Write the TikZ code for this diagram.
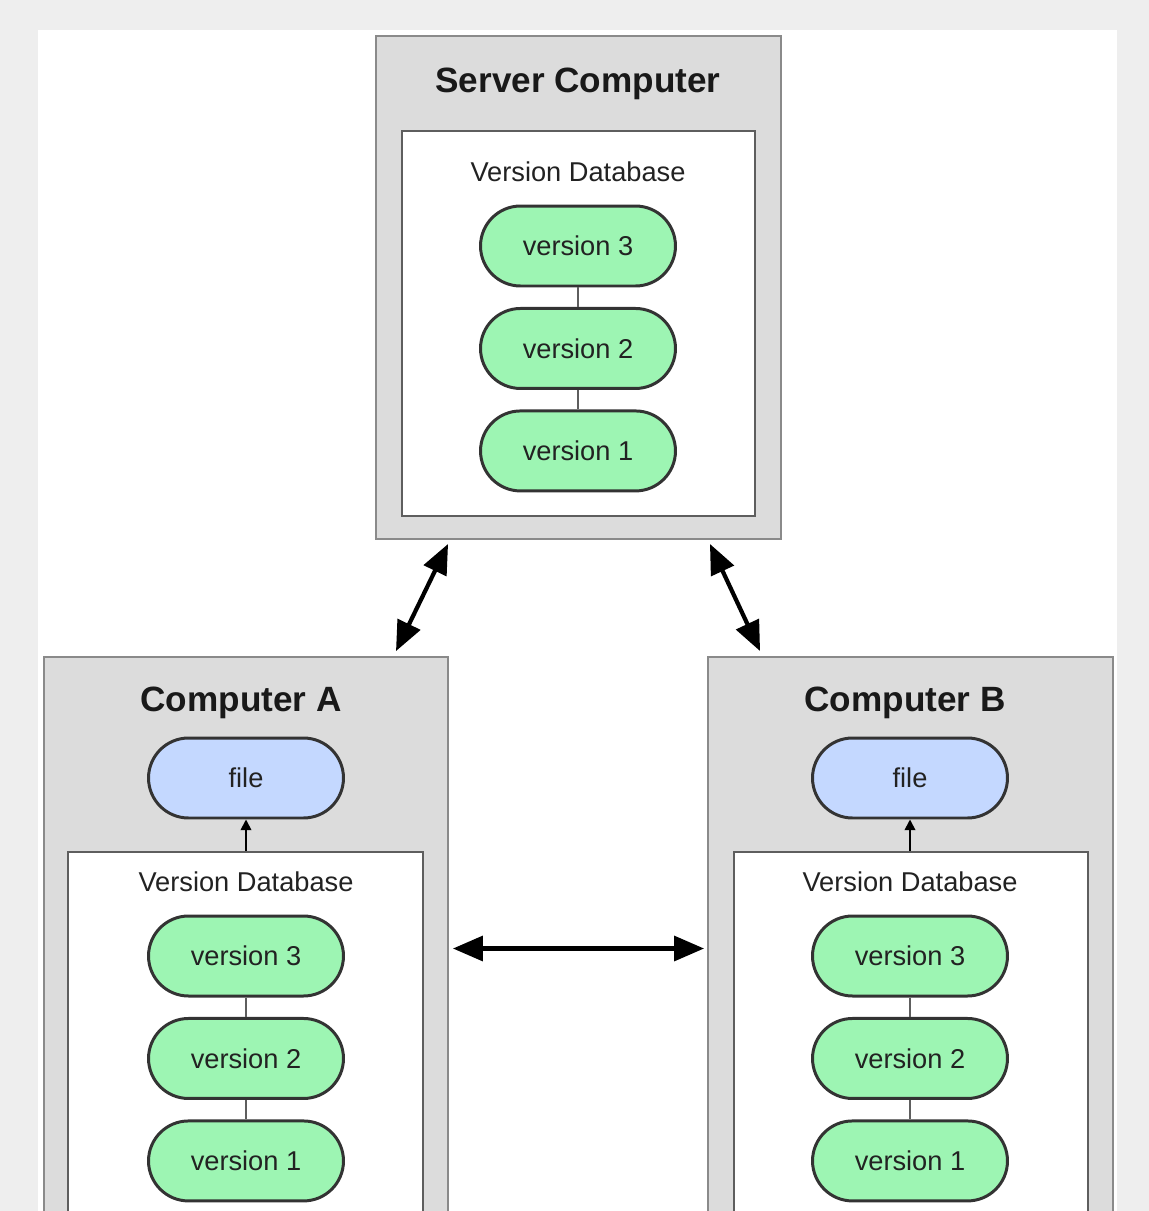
\documentclass[tikz,border=0pt]{standalone}
\usepackage{fontspec}
\setmainfont{Liberation Sans}
\usetikzlibrary{arrows.meta, positioning}
\definecolor{bggray}{HTML}{EEEEEE}
\definecolor{boxgray}{HTML}{DCDCDC}
\definecolor{boxline}{HTML}{8A8A8A}
\definecolor{dbline}{HTML}{5E5E5E}
\definecolor{pillline}{HTML}{333333}
\definecolor{pillgreen}{HTML}{9DF5B3}
\definecolor{fileblue}{HTML}{C4D8FF}
\definecolor{textdark}{HTML}{222222}
\tikzstyle{computer} = [draw=boxline, fill=boxgray, line width=1.1pt, rectangle, inner sep=0pt]
\tikzstyle{database} = [draw=dbline, fill=white, line width=1.1pt, rectangle, inner sep=0pt]
\tikzstyle{version} = [draw=pillline, fill=pillgreen, line width=1.7pt, rectangle, rounded corners=0.8cm, minimum width=3.9cm, minimum height=1.6cm, text=textdark, font=\fontsize{15.5}{18}\selectfont]
\tikzstyle{workfile} = [version, fill=fileblue]
\tikzstyle{boxtitle} = [text=black!90, font=\fontsize{20}{24}\selectfont\bfseries]
\tikzstyle{dblabel} = [text=textdark, font=\fontsize{15.5}{18}\selectfont]
\tikzstyle{sync} = [{Triangle[length=17pt,width=14pt]}-{Triangle[length=17pt,width=14pt]}, line width=2.4pt]
\tikzstyle{link} = [draw=dbline, line width=1pt]
\tikzstyle{checkout} = [-{Triangle[length=6pt,width=6pt]}, line width=1pt]

\begin{document}
\begin{tikzpicture}[x=0.02cm, y=-0.02cm]
	\useasboundingbox (0,0) rectangle (1149,1211);
	\clip (0,0) rectangle (1149,1211);
	\fill[bggray] (0,0) rectangle (1149,1211);
	\fill[white] (38,30) rectangle (1117,1211);
	% server
	\node [computer, minimum width=8.1cm, minimum height=10.06cm] (server) at (578.5,287.5) {};
	\node [boxtitle] (servertitle) at (578,84) {Server Computer};
	\node [database, minimum width=7.06cm, minimum height=7.7cm] (serverdb) at (578.5,323.5) {};
	\node [dblabel] (serverlabel) at (578,172) {Version Database};
	\node [version] (sv3) at (578,246) {version 3};
	\node [version, below=0.39cm of sv3] (sv2) {version 2};
	\node [version, below=0.39cm of sv2] (sv1) {version 1};
	\draw [link] (sv3) -- (sv2);
	\draw [link] (sv2) -- (sv1);
	% computer A
	\node [computer, minimum width=8.08cm, minimum height=11.66cm] (compA) at (246,948.5) {};
	\node [boxtitle] (titleA) at (241,703) {Computer A};
	\node [workfile] (fileA) at (246,778) {file};
	\node [database, minimum width=7.1cm, minimum height=7.7cm] (dbA) at (245.5,1044) {};
	\node [dblabel] (labelA) at (246,882) {Version Database};
	\node [version] (a3) at (246,956) {version 3};
	\node [version, below=0.39cm of a3] (a2) {version 2};
	\node [version, below=0.39cm of a2] (a1) {version 1};
	\draw [link] (a3) -- (a2);
	\draw [link] (a2) -- (a1);
	\draw [checkout] (dbA.north -| fileA) -- (fileA);
	% computer B
	\node [computer, minimum width=8.1cm, minimum height=11.66cm] (compB) at (910.5,948.5) {};
	\node [boxtitle] (titleB) at (905,703) {Computer B};
	\node [workfile] (fileB) at (910,778) {file};
	\node [database, minimum width=7.08cm, minimum height=7.7cm] (dbB) at (911,1044) {};
	\node [dblabel] (labelB) at (910,882) {Version Database};
	\node [version] (b3) at (910,956) {version 3};
	\node [version, below=0.39cm of b3] (b2) {version 2};
	\node [version, below=0.39cm of b2] (b1) {version 1};
	\draw [link] (b3) -- (b2);
	\draw [link] (b2) -- (b1);
	\draw [checkout] (dbB.north -| fileB) -- (fileB);
	% sync arrows
	\draw [sync] ([xshift=1.46cm, yshift=-0.08cm]server.south west) -- ([xshift=7.06cm, yshift=0.1cm]compA.north west);
	\draw [sync] ([xshift=-1.44cm, yshift=-0.08cm]server.south east) -- ([xshift=1.06cm, yshift=0.1cm]compB.north west);
	\draw [sync, shorten <=0.08cm, shorten >=0.06cm] (compA.east) -- (compB.west);
\end{tikzpicture}
\end{document}
